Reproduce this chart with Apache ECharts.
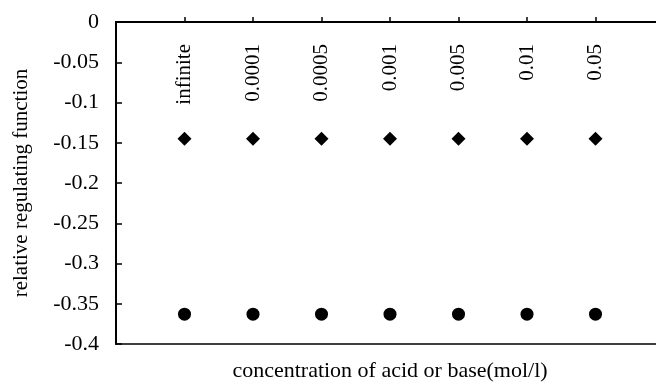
<!DOCTYPE html>
<html><head><meta charset="utf-8">
<script src="https://cdn.jsdelivr.net/npm/echarts@6/dist/echarts.min.js"></script>
<style>html,body{margin:0;padding:0;background:#fff}#c{width:656px;height:384px}</style>
</head><body><div id="c"></div>
<script>
const categories = ['', 'infinite', '0.0001', '0.0005', '0.001', '0.005', '0.01', '0.05', ''];
const diamondValues = [null, -0.145, -0.145, -0.145, -0.145, -0.145, -0.145, -0.145, null];
const circleValues = [null, -0.363, -0.363, -0.363, -0.363, -0.363, -0.363, -0.363, null];
const yTicks = {min: -0.4, max: 0, interval: 0.05};
const xTitle = 'concentration of acid or base(mol/l)';
const yTitle = 'relative regulating function';

const font = 'Liberation Serif';
const chart = echarts.init(document.getElementById('c'), null, {renderer: 'canvas'});
chart.setOption({
  animation: false,
  backgroundColor: '#fff',
  grid: {left: 116, top: 22, height: 322, width: 548, outerBoundsMode: 'none',
    show: true, borderColor: '#000', borderWidth: 1.5, containLabel: false},
  xAxis: {
    type: 'category', data: categories, boundaryGap: false, position: 'top',
    axisLine: {lineStyle: {color: '#000', width: 2}},
    axisTick: {show: true, inside: false, length: 5, lineStyle: {color: '#000', width: 1.5},
      interval: function (i) { return i > 0 && i < categories.length - 1; }},
    axisLabel: {inside: true, rotate: 90, margin: 22, color: '#000', fontFamily: font, fontSize: 21, interval: 0},
    splitLine: {show: false}
  },
  yAxis: {
    type: 'value', min: yTicks.min, max: yTicks.max, interval: yTicks.interval,
    name: yTitle, nameLocation: 'middle', nameRotate: 90, nameGap: 84,
    nameTextStyle: {color: '#000', fontFamily: font, fontSize: 21},
    axisLine: {show: true, lineStyle: {color: '#000', width: 2}},
    axisTick: {show: true, inside: true, length: 6, lineStyle: {color: '#000', width: 1.5}},
    axisLabel: {color: '#000', fontFamily: font, fontSize: 22, margin: 17,
      formatter: function (v) { return v === 0 ? '0' : String(+v.toFixed(2)); }},
    splitLine: {show: false}
  },
  graphic: [{type: 'text', x: 390, y: 360,
    style: {text: xTitle, fill: '#000', font: '22px "Liberation Serif"', textAlign: 'center', textVerticalAlign: 'top'}}],
  series: [
    {type: 'scatter', data: diamondValues, symbol: 'diamond', symbolSize: 14, itemStyle: {color: '#000', opacity: 1}},
    {type: 'scatter', data: circleValues, symbol: 'circle', symbolSize: 13, itemStyle: {color: '#000', opacity: 1}}
  ]
});
</script></body></html>
